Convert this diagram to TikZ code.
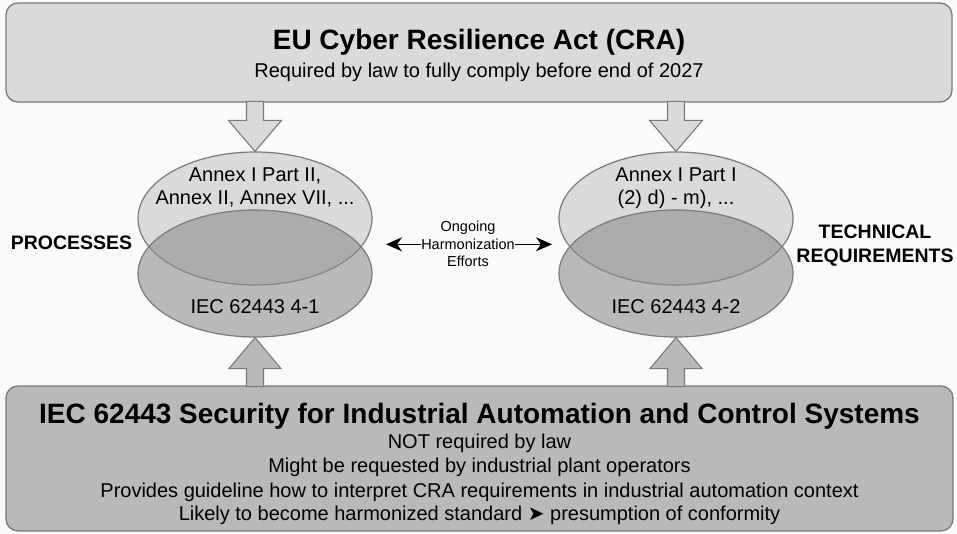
\documentclass[tikz,border=0pt]{standalone}
\usepackage{fontspec}
\setmainfont{Liberation Sans}
\newfontfamily\symfont{DejaVu Sans}
\usetikzlibrary{shapes.geometric, arrows.meta}

\definecolor{bggray}{HTML}{FAFAFA}
\definecolor{edgegray}{HTML}{7A7A7A}
\definecolor{lightfill}{HTML}{DADADA}
\definecolor{darkfill}{HTML}{B9B9B9}
\definecolor{overfill}{HTML}{8E8E8E}

\begin{document}
\begin{tikzpicture}[
	    x=1pt, y=-1pt,
	    box/.style={draw=edgegray, line width=1.3pt, rounded corners=12pt, inner sep=0pt},
	    oval/.style={ellipse, draw=edgegray, line width=1.2pt, minimum width=234pt, inner sep=0pt},
	    blockarrow/.style={draw=edgegray, line width=1.1pt, line join=miter},
	    txt/.style={anchor=base, inner sep=0pt, font=\fontsize{20}{24}\selectfont},
	    bigtxt/.style={anchor=base, inner sep=0pt, font=\fontsize{28}{32}\selectfont\bfseries},
	    sidetxt/.style={anchor=base, inner sep=0pt, font=\fontsize{19.5}{24}\selectfont\bfseries},
	    smalltxt/.style={anchor=base, inner sep=0pt, font=\fontsize{14.5}{17}\selectfont},
	    harm/.style={-{Stealth[length=16pt, width=14pt, inset=5pt]}, line width=1.6pt}
	]
		\path[use as bounding box, fill=bggray] (0,0) rectangle (957,534);

		% the two big boxes
		\node[box, fill=lightfill, minimum width=946pt, minimum height=99pt] (cra) at (479,52.5) {};
		\node[box, fill=darkfill, minimum width=947pt, minimum height=145pt] (iec) at (479.5,458.5) {};

		\node[bigtxt] (craT) at (479,50) {EU Cyber Resilience Act (CRA)};
		\node[txt] (craS) at (479,78) {Required by law to fully comply before end of 2027};

		\node[bigtxt] (iecT) at (479.5,423) {IEC 62443 Security for Industrial Automation and Control Systems};
		\node[txt] (iec1) at (479.5,448) {NOT required by law};
		\node[txt] (iec2) at (479.5,472) {Might be requested by industrial plant operators};
		\node[txt] (iec3) at (479.5,497) {Provides guideline how to interpret CRA requirements in industrial automation context};
		\node[txt] (iec4) at (479.5,520) {Likely to become harmonized standard {\symfont ➤} presumption of conformity};

		% ellipses
		\node[oval, fill=lightfill, minimum height=133pt] (upA) at (255,218.5) {};
		\node[oval, fill=overfill, fill opacity=0.6, minimum height=127pt] (loA) at (255,273.5) {};
		\node[oval, fill=lightfill, minimum height=133pt] (upB) at (676,218.5) {};
		\node[oval, fill=overfill, fill opacity=0.6, minimum height=127pt] (loB) at (676,273.5) {};

		\node[txt] (upA1) at (255,182) {Annex I Part II,};
		\node[txt] (upA2) at (255,205) {Annex II, Annex VII, ...};
		\node[txt] (loA1) at (255,313) {IEC 62443 4-1};
		\node[txt] (upB1) at (676,182) {Annex I Part I};
		\node[txt] (upB2) at (676,205) {(2) d) - m), ...};
		\node[txt] (loB1) at (676,313) {IEC 62443 4-2};

		% side labels
		\node[sidetxt] (proc) at (71.5,250) {PROCESSES};
		\node[sidetxt] (tech1) at (875,239) {TECHNICAL};
		\node[sidetxt] (tech2) at (875,263) {REQUIREMENTS};

		\node[smalltxt] (harm1) at (468,232) {Ongoing};
		\node[smalltxt] (harm2) at (468,249.5) {Harmonization};
		\node[smalltxt] (harm3) at (468,267) {Efforts};

		\coordinate (harmL) at (386,0);
		\coordinate (harmR) at (552,0);
		\draw[harm] (harm2.west) -- (harm2.west -| harmL);
		\draw[harm] (harm2.east) -- (harm2.east -| harmR);

		% block arrows
		\draw[blockarrow, fill=lightfill, shift={(upA.north)}]
		    (0,0) -- (-26.5,-31) -- (-8.5,-31) -- (-8.5,-50) -- (8.5,-50) -- (8.5,-31) -- (26.5,-31) -- cycle;
		\draw[blockarrow, fill=lightfill, shift={(upB.north)}]
		    (0,0) -- (-26.5,-31) -- (-8.5,-31) -- (-8.5,-50) -- (8.5,-50) -- (8.5,-31) -- (26.5,-31) -- cycle;
		\draw[blockarrow, fill=darkfill, shift={(loA.south)}]
		    (0,0) -- (-26,31) -- (-8.5,31) -- (-8.5,49) -- (8.5,49) -- (8.5,31) -- (26,31) -- cycle;
		\draw[blockarrow, fill=darkfill, shift={(loB.south)}]
		    (0,0) -- (-26,31) -- (-8.5,31) -- (-8.5,49) -- (8.5,49) -- (8.5,31) -- (26,31) -- cycle;
	\end{tikzpicture}
\end{document}
